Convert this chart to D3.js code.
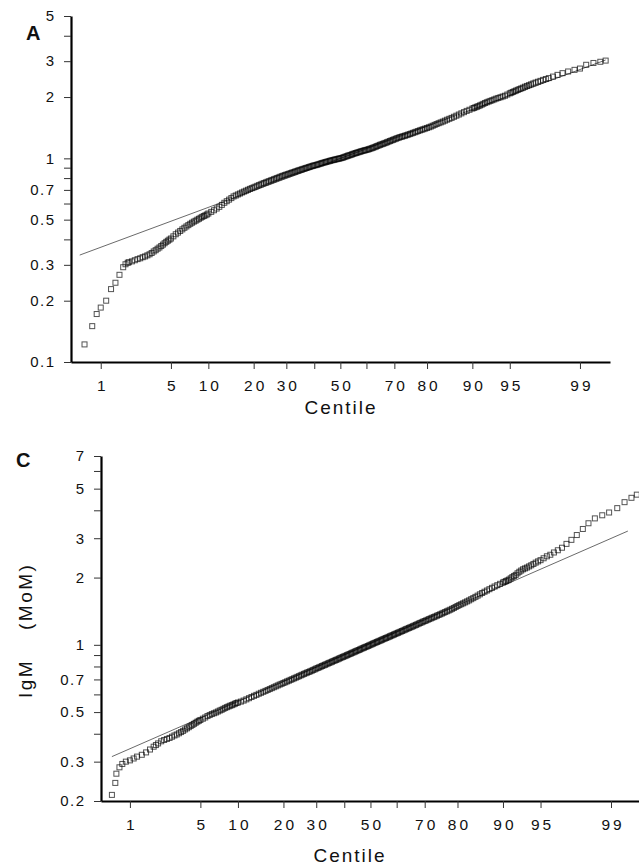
<!DOCTYPE html>
<html>
<head>
<meta charset="utf-8">
<script src="https://cdn.jsdelivr.net/npm/d3@7"></script>
<style>
  body { margin: 0; background: #fff; }
  svg { display: block; }
  text { font-family: "Liberation Sans", Arial, Helvetica, sans-serif; fill: #111; }
</style>
</head>
<body>
<svg id="chart" width="639" height="866"></svg>
<script>
// ---- Panel A: observed values (MoM) against normal centile ----
const centilesA = [
  0.65, 0.8, 0.9, 1.0, 1.15, 1.3, 1.45, 1.6, 1.75, 1.85, 1.95,
  2.0, 2.15, 2.3, 2.45, 2.6, 2.75, 2.9, 3.05, 3.2, 3.35, 3.5, 3.65, 3.8, 3.95, 4.1, 4.25, 4.4, 4.55, 4.7, 4.85, 5.0,
  5.25, 5.5, 5.75, 6.0, 6.25, 6.5, 6.75, 7.0, 7.25, 7.5, 7.75, 8.0, 8.25, 8.5, 8.75, 9.0, 9.25, 9.5, 9.75, 10,
  10.5, 11, 11.5, 12, 12.5, 13, 13.5, 14, 14.5, 15, 15.5, 16, 16.5, 17, 17.5, 18, 18.5, 19, 19.5, 20,
  20.5, 21, 21.5, 22, 22.5, 23, 23.5, 24, 24.5, 25, 25.5, 26, 26.5, 27, 27.5, 28, 28.5, 29, 29.5, 30,
  30.5, 31, 31.5, 32, 32.5, 33, 33.5, 34, 34.5, 35, 35.5, 36, 36.5, 37, 37.5, 38, 38.5, 39, 39.5, 40,
  40.5, 41, 41.5, 42, 42.5, 43, 43.5, 44, 44.5, 45, 45.5, 46, 46.5, 47, 47.5, 48, 48.5, 49, 49.5, 50,
  50.5, 51, 51.5, 52, 52.5, 53, 53.5, 54, 54.5, 55, 55.5, 56, 56.5, 57, 57.5, 58, 58.5, 59, 59.5, 60,
  60.5, 61, 61.5, 62, 62.5, 63, 63.5, 64, 64.5, 65, 65.5, 66, 66.5, 67, 67.5, 68, 68.5, 69, 69.5, 70,
  70.5, 71, 71.5, 72, 72.5, 73, 73.5, 74, 74.5, 75, 75.5, 76, 76.5, 77, 77.5, 78, 78.5, 79, 79.5, 80,
  80.5, 81, 81.5, 82, 82.5, 83, 83.5, 84, 84.5, 85, 85.5, 86, 86.5, 87, 87.5, 88, 88.5, 89, 89.5, 90,
  90.25, 90.5, 90.75, 91, 91.25, 91.5, 91.75, 92, 92.25, 92.5, 92.75, 93, 93.25, 93.5, 93.75, 94, 94.25, 94.5, 94.75, 95,
  95.15, 95.3, 95.45, 95.6, 95.75, 95.9, 96.05, 96.2, 96.35, 96.5, 96.65, 96.8, 96.95, 97.1, 97.25, 97.4, 97.55, 97.7, 97.85,
  98.05, 98.25, 98.45, 98.65, 98.85, 99.0, 99.15, 99.3, 99.42, 99.5];
const valuesA = [
  0.122, 0.150, 0.172, 0.185, 0.200, 0.228, 0.245, 0.268, 0.292, 0.302, 0.307,
  0.309, 0.312, 0.316, 0.320, 0.323, 0.327, 0.330, 0.334, 0.338, 0.343, 0.349, 0.354, 0.360, 0.365, 0.371, 0.377, 0.383, 0.389, 0.394, 0.399, 0.404,
  0.414, 0.424, 0.432, 0.440, 0.448, 0.456, 0.463, 0.470, 0.477, 0.483, 0.489, 0.494, 0.500, 0.505, 0.511, 0.516, 0.521, 0.525, 0.530, 0.536,
  0.546, 0.556, 0.567, 0.578, 0.591, 0.605, 0.616, 0.627, 0.638, 0.650, 0.657, 0.665, 0.672, 0.680, 0.687, 0.694, 0.701, 0.708, 0.714, 0.720,
  0.726, 0.733, 0.739, 0.745, 0.751, 0.757, 0.762, 0.768, 0.773, 0.779, 0.784, 0.790, 0.795, 0.801, 0.806, 0.812, 0.817, 0.822, 0.827, 0.832,
  0.836, 0.841, 0.846, 0.851, 0.855, 0.860, 0.865, 0.870, 0.874, 0.879, 0.883, 0.888, 0.892, 0.897, 0.901, 0.906, 0.910, 0.915, 0.919, 0.923,
  0.926, 0.930, 0.934, 0.939, 0.943, 0.948, 0.952, 0.956, 0.960, 0.964, 0.968, 0.972, 0.976, 0.980, 0.983, 0.987, 0.990, 0.994, 0.997, 1.000,
  1.004, 1.009, 1.014, 1.020, 1.025, 1.031, 1.035, 1.040, 1.046, 1.052, 1.057, 1.062, 1.067, 1.072, 1.077, 1.082, 1.087, 1.092, 1.096, 1.100,
  1.105, 1.110, 1.116, 1.122, 1.128, 1.135, 1.142, 1.150, 1.157, 1.165, 1.171, 1.178, 1.185, 1.192, 1.200, 1.208, 1.216, 1.224, 1.232, 1.240,
  1.248, 1.257, 1.264, 1.272, 1.278, 1.285, 1.292, 1.300, 1.308, 1.316, 1.325, 1.334, 1.343, 1.352, 1.362, 1.372, 1.381, 1.390, 1.400, 1.410,
  1.421, 1.432, 1.446, 1.460, 1.474, 1.488, 1.501, 1.515, 1.531, 1.548, 1.564, 1.580, 1.600, 1.620, 1.641, 1.663, 1.686, 1.710, 1.732, 1.755,
  1.767, 1.780, 1.792, 1.805, 1.820, 1.835, 1.852, 1.870, 1.885, 1.900, 1.915, 1.930, 1.947, 1.965, 1.980, 1.995, 2.012, 2.030, 2.057, 2.085,
  2.100, 2.118, 2.135, 2.152, 2.170, 2.188, 2.206, 2.225, 2.248, 2.268, 2.288, 2.310, 2.333, 2.356, 2.378, 2.402, 2.428, 2.452, 2.478,
  2.52, 2.57, 2.62, 2.67, 2.72, 2.76, 2.88, 2.94, 2.98, 3.02];
const refCentilesA = [0.57, 99.5];
const refValuesA = [0.335, 3.04];
const yTicksA = [0.1, 0.2, 0.3, 0.4, 0.5, 0.6, 0.7, 0.8, 0.9, 1, 2, 3, 4, 5];
const yLabelsA = ["0.1", "0.2", "0.3", "", "0.5", "", "0.7", "", "", "1", "2", "3", "", "5"];

// ---- Panel C: IgM (MoM) against normal centile ----
const centilesC = [
  0.62, 0.68, 0.70, 0.76, 0.82, 0.9, 1.0, 1.1, 1.2, 1.35, 1.5, 1.65, 1.8, 1.9,
  2.0, 2.15, 2.3, 2.45, 2.6, 2.75, 2.9, 3.05, 3.2, 3.35, 3.5, 3.65, 3.8, 3.95, 4.1, 4.25, 4.4, 4.55, 4.7, 4.85, 5.0,
  5.25, 5.5, 5.75, 6.0, 6.25, 6.5, 6.75, 7.0, 7.25, 7.5, 7.75, 8.0, 8.25, 8.5, 8.75, 9.0, 9.25, 9.5, 9.75, 10,
  10.5, 11, 11.5, 12, 12.5, 13, 13.5, 14, 14.5, 15, 15.5, 16, 16.5, 17, 17.5, 18, 18.5, 19, 19.5, 20,
  20.5, 21, 21.5, 22, 22.5, 23, 23.5, 24, 24.5, 25, 25.5, 26, 26.5, 27, 27.5, 28, 28.5, 29, 29.5, 30,
  30.5, 31, 31.5, 32, 32.5, 33, 33.5, 34, 34.5, 35, 35.5, 36, 36.5, 37, 37.5, 38, 38.5, 39, 39.5, 40,
  40.5, 41, 41.5, 42, 42.5, 43, 43.5, 44, 44.5, 45, 45.5, 46, 46.5, 47, 47.5, 48, 48.5, 49, 49.5, 50,
  50.5, 51, 51.5, 52, 52.5, 53, 53.5, 54, 54.5, 55, 55.5, 56, 56.5, 57, 57.5, 58, 58.5, 59, 59.5, 60,
  60.5, 61, 61.5, 62, 62.5, 63, 63.5, 64, 64.5, 65, 65.5, 66, 66.5, 67, 67.5, 68, 68.5, 69, 69.5, 70,
  70.5, 71, 71.5, 72, 72.5, 73, 73.5, 74, 74.5, 75, 75.5, 76, 76.5, 77, 77.5, 78, 78.5, 79, 79.5, 80,
  80.5, 81, 81.5, 82, 82.5, 83, 83.5, 84, 84.5, 85, 85.5, 86, 86.5, 87, 87.5, 88, 88.5, 89, 89.5, 90,
  90.25, 90.5, 90.75, 91, 91.25, 91.5, 91.75, 92, 92.25, 92.5, 92.75, 93, 93.25, 93.5, 93.75, 94, 94.25, 94.5, 94.75, 95,
  95.3, 95.6, 95.9, 96.2, 96.5, 96.8, 97.1, 97.4, 97.7, 98.0, 98.25, 98.5, 98.75, 98.95, 99.15, 99.3, 99.42, 99.5];
const valuesC = [
  0.213, 0.241, 0.265, 0.283, 0.293, 0.300, 0.304, 0.310, 0.316, 0.322, 0.330, 0.340, 0.350, 0.356,
  0.362, 0.370, 0.375, 0.379, 0.383, 0.388, 0.393, 0.397, 0.402, 0.407, 0.412, 0.418, 0.423, 0.428, 0.433, 0.438, 0.443, 0.448, 0.453, 0.457, 0.461,
  0.467, 0.473, 0.480, 0.485, 0.490, 0.494, 0.498, 0.503, 0.508, 0.512, 0.517, 0.522, 0.526, 0.530, 0.534, 0.537, 0.541, 0.545, 0.549, 0.552,
  0.557, 0.563, 0.570, 0.577, 0.584, 0.591, 0.597, 0.604, 0.610, 0.616, 0.622, 0.628, 0.634, 0.640, 0.646, 0.652, 0.658, 0.664, 0.669, 0.675,
  0.680, 0.686, 0.691, 0.697, 0.702, 0.708, 0.713, 0.719, 0.724, 0.730, 0.735, 0.741, 0.746, 0.751, 0.756, 0.761, 0.766, 0.772, 0.777, 0.783,
  0.788, 0.793, 0.798, 0.804, 0.809, 0.814, 0.819, 0.825, 0.830, 0.835, 0.840, 0.846, 0.851, 0.856, 0.861, 0.867, 0.872, 0.878, 0.883, 0.888,
  0.893, 0.899, 0.904, 0.910, 0.915, 0.921, 0.926, 0.932, 0.937, 0.943, 0.948, 0.954, 0.960, 0.966, 0.971, 0.977, 0.982, 0.988, 0.994, 1.000,
  1.006, 1.012, 1.018, 1.024, 1.030, 1.036, 1.042, 1.048, 1.054, 1.061, 1.067, 1.073, 1.079, 1.086, 1.092, 1.099, 1.105, 1.112, 1.119, 1.126,
  1.132, 1.139, 1.146, 1.153, 1.160, 1.168, 1.175, 1.182, 1.190, 1.197, 1.204, 1.212, 1.220, 1.228, 1.236, 1.245, 1.253, 1.261, 1.270, 1.278,
  1.286, 1.295, 1.304, 1.313, 1.322, 1.331, 1.340, 1.350, 1.360, 1.370, 1.380, 1.391, 1.402, 1.413, 1.424, 1.436, 1.449, 1.462, 1.477, 1.492,
  1.506, 1.520, 1.534, 1.549, 1.565, 1.581, 1.600, 1.618, 1.639, 1.660, 1.683, 1.706, 1.728, 1.750, 1.774, 1.799, 1.824, 1.849, 1.875, 1.901,
  1.914, 1.928, 1.943, 1.959, 1.984, 2.009, 2.032, 2.056, 2.090, 2.123, 2.150, 2.178, 2.198, 2.218, 2.244, 2.270, 2.301, 2.333, 2.363, 2.393,
  2.44, 2.49, 2.53, 2.59, 2.65, 2.72, 2.83, 2.95, 3.10, 3.30, 3.50, 3.68, 3.80, 3.91, 4.09, 4.35, 4.55, 4.70];
const refCentilesC = [0.62, 99.36];
const refValuesC = [0.316, 3.23];
const yTicksC = [0.2, 0.3, 0.4, 0.5, 0.6, 0.7, 0.8, 0.9, 1, 2, 3, 4, 5, 6, 7];
const yLabelsC = ["0.2", "0.3", "", "0.5", "", "0.7", "", "", "1", "2", "3", "", "5", "", "7"];

// ---- shared centile axis ----
const xTicks = [1, 5, 10, 20, 30, 40, 50, 60, 70, 80, 90, 95, 99];
const xTickLabels = ["1", "5", "10", "20", "30", "", "50", "", "70", "80", "90", "95", "99"];

// Inverse of the standard normal CDF (Acklam's rational approximation)
function probit(p) {
  const a = [-3.969683028665376e+01, 2.209460984245205e+02, -2.759285104469687e+02,
             1.383577518672690e+02, -3.066479806614716e+01, 2.506628277459239e+00];
  const b = [-5.447609879822406e+01, 1.615858368580409e+02, -1.556989798598866e+02,
             6.680131188771972e+01, -1.328068155288572e+01];
  const c = [-7.784894002430293e-03, -3.223964580411365e-01, -2.400758277161838e+00,
             -2.549732539343734e+00, 4.374664141464968e+00, 2.938163982698783e+00];
  const d = [7.784695709041462e-03, 3.224671290700398e-01, 2.445134137142996e+00,
             3.754408661907416e+00];
  const pl = 0.02425, ph = 1 - pl;
  let q, r;
  if (p < pl) {
    q = Math.sqrt(-2 * Math.log(p));
    return (((((c[0]*q+c[1])*q+c[2])*q+c[3])*q+c[4])*q+c[5]) / ((((d[0]*q+d[1])*q+d[2])*q+d[3])*q+1);
  }
  if (p <= ph) {
    q = p - 0.5; r = q * q;
    return (((((a[0]*r+a[1])*r+a[2])*r+a[3])*r+a[4])*r+a[5])*q / (((((b[0]*r+b[1])*r+b[2])*r+b[3])*r+b[4])*r+1);
  }
  q = Math.sqrt(-2 * Math.log(1 - p));
  return -(((((c[0]*q+c[1])*q+c[2])*q+c[3])*q+c[4])*q+c[5]) / ((((d[0]*q+d[1])*q+d[2])*q+d[3])*q+1);
}

const svg = d3.select("#chart");

function drawPanel(o) {
  const g = svg.append("g");
  const xz = d3.scaleLinear().domain(o.zDomain).range([o.left, o.right]);
  const x = c => xz(probit(c / 100));
  const y = d3.scaleLog().domain(o.yDomain).range([o.bottom, o.top]);

  // fitted reference line
  const ref = d3.zip(o.refCentiles, o.refValues);
  g.append("path")
    .datum(ref)
    .attr("fill", "none")
    .attr("stroke", "#444")
    .attr("stroke-width", 0.8)
    .attr("d", d3.line().x(d => x(d[0])).y(d => y(d[1])));

  // observed points as open squares; overlapping edges build up into a dark band
  const s = 5;
  g.append("g").selectAll("rect")
    .data(d3.zip(o.centiles, o.values))
    .join("rect")
    .attr("x", d => x(d[0]) - s / 2)
    .attr("y", d => y(d[1]) - s / 2)
    .attr("width", s)
    .attr("height", s)
    .attr("fill", "none")
    .attr("stroke", "#000")
    .attr("stroke-opacity", 0.68)
    .attr("stroke-width", 1);

  // y axis (log)
  const yAxis = d3.axisLeft(y)
    .tickValues(o.yTicks)
    .tickFormat((d, i) => o.yLabels[i])
    .tickSize(7)
    .tickSizeOuter(0)
    .tickPadding(10);
  const ya = g.append("g").attr("transform", `translate(${o.left},0)`).call(yAxis);
  ya.select(".domain").attr("stroke", "#000").attr("stroke-width", 2.2);
  ya.selectAll(".tick line").attr("stroke", "#333").attr("stroke-width", 1);
  ya.selectAll(".tick text")
    .attr("font-family", "Liberation Sans, Arial, sans-serif")
    .attr("font-size", 15)
    .attr("letter-spacing", "1.5px")
    .attr("dx", 1.5)
    .attr("fill", "#111");

  // x axis (normal probability)
  const xAxis = d3.axisBottom(xz)
    .tickValues(xTicks.map(c => probit(c / 100)))
    .tickFormat((d, i) => xTickLabels[i])
    .tickSize(7)
    .tickSizeOuter(0);
  const xa = g.append("g").attr("transform", `translate(0,${o.bottom})`).call(xAxis);
  xa.select(".domain").attr("stroke", "#000").attr("stroke-width", 2.2);
  xa.selectAll(".tick line").attr("stroke", "#333").attr("stroke-width", 1);
  xa.selectAll(".tick text")
    .attr("font-family", "Liberation Sans, Arial, sans-serif")
    .attr("font-size", 15.5)
    .attr("letter-spacing", "3px")
    .attr("dx", 1.5)
    .attr("y", 29)
    .attr("dy", null)
    .attr("fill", "#111");

  // axis title
  g.append("text")
    .attr("x", o.titleX + 1)
    .attr("y", o.titleY)
    .attr("text-anchor", "middle")
    .attr("font-size", 19)
    .attr("letter-spacing", "2px")
    .text("Centile");

  // panel letter
  g.append("text")
    .attr("x", o.letterX)
    .attr("y", o.letterY)
    .attr("font-size", 20)
    .attr("font-weight", "bold")
    .text(o.letter);
}

drawPanel({
  letter: "A", letterX: 26, letterY: 40,
  left: 71, right: 610, top: 16, bottom: 362,
  zDomain: [-2.615, 2.618], yDomain: [0.1, 5],
  centiles: centilesA, values: valuesA,
  refCentiles: refCentilesA, refValues: refValuesA,
  yTicks: yTicksA, yLabels: yLabelsA,
  titleX: 340, titleY: 414
});

drawPanel({
  letter: "C", letterX: 16, letterY: 467,
  left: 101, right: 639, top: 456, bottom: 801,
  zDomain: [-2.606, 2.597], yDomain: [0.2, 7],
  centiles: centilesC, values: valuesC,
  refCentiles: refCentilesC, refValues: refValuesC,
  yTicks: yTicksC, yLabels: yLabelsC,
  titleX: 349, titleY: 862
});

// rotated y-axis title for panel C
const yTitle = svg.append("g").attr("transform", "translate(32,0)");
yTitle.append("text")
  .attr("transform", "translate(0,698) rotate(-90)")
  .attr("font-size", 19)
  .attr("letter-spacing", "2.5px")
  .text("IgM");
yTitle.append("text")
  .attr("transform", "translate(0,630) rotate(-90)")
  .attr("font-size", 19)
  .attr("letter-spacing", "2.5px")
  .text("(MoM)");
</script>
</body>
</html>
